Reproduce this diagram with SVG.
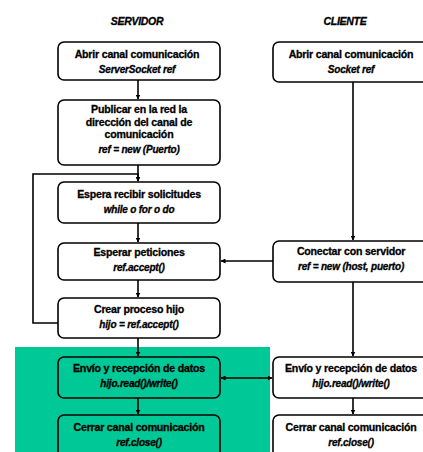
<svg xmlns="http://www.w3.org/2000/svg" width="423" height="452" viewBox="0 0 423 452">
<style>
.box{fill:#fff;stroke:#000;stroke-width:1.6}
.gbox{fill:#00C896;stroke:#000;stroke-width:1.6}
.t{font-family:"Liberation Sans",Arial,sans-serif;font-weight:bold;font-size:10.6px;text-anchor:middle;fill:#000;stroke:#000;stroke-width:0.3;letter-spacing:-0.2px}
.i{font-style:italic;font-size:10px}
.h{font-family:"Liberation Sans",Arial,sans-serif;font-weight:bold;font-style:italic;font-size:10.5px;text-anchor:middle;stroke:#000;stroke-width:0.3;letter-spacing:-0.3px}
.c{fill:none;stroke:#000;stroke-width:1.6}
</style>
<defs>
<marker id="ah" viewBox="0 0 10 10" refX="9" refY="5" markerWidth="5" markerHeight="5" orient="auto-start-reverse" markerUnits="userSpaceOnUse">
<path d="M0,0L10,5L0,10z" fill="#000"/>
</marker>
</defs>
<rect x="15" y="347" width="255" height="110" fill="#00C896"/>
<text class="h" x="137" y="25">SERVIDOR</text>
<text class="h" x="345" y="25">CLIENTE</text>
<g id="connectors">
<line class="c" x1="138" y1="80" x2="138" y2="99" marker-end="url(#ah)"/>
<line class="c" x1="138" y1="165" x2="138" y2="181" marker-end="url(#ah)"/>
<polyline class="c" points="58,323 33,323 33,174 138,174 138,181" marker-end="url(#ah)"/>
<line class="c" x1="138" y1="223" x2="138" y2="242" marker-end="url(#ah)"/>
<line class="c" x1="138" y1="280" x2="138" y2="297" marker-end="url(#ah)"/>
<line class="c" x1="138" y1="338" x2="138" y2="356" marker-end="url(#ah)"/>
<line class="c" x1="138" y1="398" x2="138" y2="414" marker-end="url(#ah)"/>
<line class="c" x1="353" y1="82" x2="353" y2="240" marker-end="url(#ah)"/>
<line class="c" x1="273" y1="261" x2="221" y2="261" marker-end="url(#ah)"/>
<line class="c" x1="353" y1="282" x2="353" y2="356" marker-end="url(#ah)"/>
<line class="c" x1="221" y1="378" x2="272" y2="378" marker-start="url(#ah)" marker-end="url(#ah)"/>
<line class="c" x1="353" y1="398" x2="353" y2="414" marker-end="url(#ah)"/>
</g>
<g id="s1"><rect class="box" x="58" y="42" width="162" height="38" rx="6"/>
<text class="t" x="137" y="58">Abrir canal comunicación</text><text class="t i" x="137" y="73">ServerSocket ref</text></g>
<g id="s2"><rect class="box" x="58" y="100" width="162" height="65" rx="6"/>
<text class="t" x="139" y="113">Publicar en la red la</text><text class="t" x="139" y="126">dirección del canal de</text><text class="t" x="139" y="138">comunicación</text><text class="t i" x="139" y="153">ref = new (Puerto)</text></g>
<g id="s3"><rect class="box" x="58" y="182" width="162" height="41" rx="6"/>
<text class="t" x="139" y="198">Espera recibir solicitudes</text><text class="t i" x="139" y="213">while o for o do</text></g>
<g id="s4"><rect class="box" x="58" y="243" width="162" height="37" rx="6"/>
<text class="t" x="139" y="256">Esperar peticiones</text><text class="t i" x="139" y="271">ref.accept()</text></g>
<g id="s5"><rect class="box" x="58" y="298" width="162" height="40" rx="6"/>
<text class="t" x="139" y="313">Crear proceso hijo</text><text class="t i" x="139" y="328">hijo = ref.accept()</text></g>
<g id="s6"><rect class="gbox" x="58" y="357" width="162" height="41" rx="6"/>
<text class="t" x="139" y="372">Envío y recepción de datos</text><text class="t i" x="139" y="387">hijo.read()/write()</text></g>
<g id="s7"><rect class="gbox" x="58" y="415" width="162" height="45" rx="6"/>
<text class="t" x="139" y="431">Cerrar canal comunicación</text><text class="t i" x="139" y="446">ref.close()</text></g>
<g id="c1"><rect class="box" x="273" y="42" width="160" height="40" rx="6"/>
<text class="t" x="351" y="58">Abrir canal comunicación</text><text class="t i" x="351" y="73">Socket ref</text></g>
<g id="c2"><rect class="box" x="273" y="241" width="160" height="41" rx="6"/>
<text class="t" x="351" y="255">Conectar con servidor</text><text class="t i" x="351" y="270">ref = new (host, puerto)</text></g>
<g id="c3"><rect class="box" x="273" y="357" width="160" height="41" rx="6"/>
<text class="t" x="351" y="372">Envío y recepción de datos</text><text class="t i" x="351" y="387">hijo.read()/write()</text></g>
<g id="c4"><rect class="box" x="273" y="415" width="160" height="45" rx="6"/>
<text class="t" x="351" y="431">Cerrar canal comunicación</text><text class="t i" x="351" y="446">ref.close()</text></g>
</svg>
